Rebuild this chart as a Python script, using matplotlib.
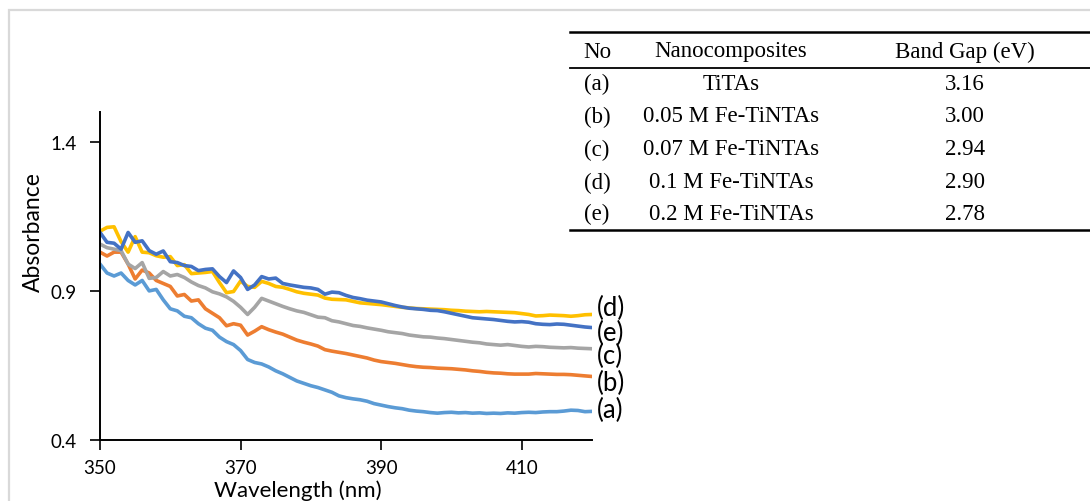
import matplotlib
matplotlib.use("Agg")
import matplotlib.pyplot as plt
from matplotlib.patches import Rectangle
from matplotlib.lines import Line2D

# Wavelength grid (nm) and absorbance spectra
wavelength = list(range(350, 421))

abs_a = [0.99, 0.96, 0.95, 0.96, 0.935, 0.92, 0.935, 0.90, 0.905, 0.87,
         0.84, 0.833, 0.815, 0.81, 0.79, 0.775, 0.768, 0.745, 0.73, 0.72,
         0.70, 0.67, 0.66, 0.655, 0.645, 0.632, 0.622, 0.61, 0.598, 0.59,
         0.582, 0.576, 0.568, 0.56, 0.548, 0.542, 0.538, 0.535, 0.53, 0.522,
         0.517, 0.512, 0.508, 0.505, 0.50, 0.497, 0.495, 0.492, 0.49, 0.492,
         0.493, 0.491, 0.492, 0.49, 0.491, 0.489, 0.49, 0.489, 0.491, 0.49,
         0.492, 0.493, 0.492, 0.494, 0.495, 0.495, 0.497, 0.50, 0.499, 0.495,
         0.496]

abs_b = [1.03, 1.017, 1.03, 1.03, 0.99, 0.94, 0.97, 0.96, 0.935, 0.925,
         0.915, 0.883, 0.888, 0.866, 0.87, 0.84, 0.825, 0.81, 0.783, 0.79,
         0.785, 0.752, 0.765, 0.78, 0.77, 0.762, 0.755, 0.745, 0.735, 0.728,
         0.722, 0.715, 0.703, 0.698, 0.694, 0.69, 0.685, 0.68, 0.675, 0.668,
         0.663, 0.66, 0.657, 0.653, 0.649, 0.646, 0.644, 0.643, 0.641, 0.64,
         0.639, 0.637, 0.635, 0.632, 0.63, 0.627, 0.625, 0.624, 0.622, 0.621,
         0.621, 0.621, 0.623, 0.622, 0.621, 0.62, 0.62, 0.619, 0.617, 0.615,
         0.613]

abs_c = [1.057, 1.045, 1.04, 1.035, 0.99, 0.975, 0.995, 0.942, 0.945, 0.965,
         0.95, 0.955, 0.945, 0.93, 0.918, 0.91, 0.897, 0.89, 0.88, 0.865,
         0.845, 0.821, 0.845, 0.875, 0.866, 0.857, 0.848, 0.84, 0.833, 0.828,
         0.82, 0.812, 0.81, 0.80, 0.796, 0.79, 0.784, 0.781, 0.776, 0.772,
         0.768, 0.763, 0.76, 0.757, 0.752, 0.749, 0.746, 0.745, 0.742, 0.74,
         0.737, 0.734, 0.731, 0.728, 0.726, 0.722, 0.72, 0.718, 0.72, 0.717,
         0.714, 0.712, 0.714, 0.713, 0.711, 0.71, 0.709, 0.71, 0.708, 0.707,
         0.706]

abs_d = [1.10, 1.113, 1.115, 1.065, 1.03, 1.082, 1.03, 1.028, 1.018, 1.013,
         1.015, 0.985, 0.988, 0.958, 0.96, 0.962, 0.965, 0.928, 0.894, 0.898,
         0.933, 0.915, 0.912, 0.932, 0.925, 0.915, 0.912, 0.905, 0.897, 0.892,
         0.889, 0.886, 0.876, 0.872, 0.871, 0.87, 0.865, 0.86, 0.858, 0.856,
         0.854, 0.851, 0.848, 0.845, 0.843, 0.841, 0.84, 0.839, 0.838, 0.837,
         0.835, 0.834, 0.832, 0.831, 0.83, 0.831, 0.83, 0.829, 0.828, 0.827,
         0.824, 0.821, 0.816, 0.817, 0.819, 0.818, 0.817, 0.815, 0.817, 0.82,
         0.821]

abs_e = [1.096, 1.063, 1.06, 1.04, 1.096, 1.063, 1.068, 1.035, 1.023, 1.034,
         0.998, 0.995, 0.985, 0.982, 0.968, 0.972, 0.974, 0.948, 0.928, 0.967,
         0.945, 0.905, 0.92, 0.948, 0.94, 0.943, 0.925, 0.92, 0.916, 0.912,
         0.91, 0.905, 0.889, 0.896, 0.894, 0.885, 0.878, 0.874, 0.869, 0.866,
         0.863, 0.857, 0.851, 0.846, 0.842, 0.84, 0.838, 0.835, 0.834, 0.83,
         0.825, 0.82, 0.815, 0.81, 0.808, 0.806, 0.804, 0.801, 0.798, 0.796,
         0.797, 0.795, 0.79, 0.788, 0.787, 0.789, 0.788, 0.785, 0.782, 0.779,
         0.777]

series_ids = ["(a)", "(b)", "(c)", "(d)", "(e)"]
series_colors = ["#5B9BD5", "#ED7D31", "#A5A5A5", "#FFC000", "#4472C4"]
series_values = [abs_a, abs_b, abs_c, abs_d, abs_e]
label_y = {"(d)": 0.845, "(e)": 0.762, "(c)": 0.685, "(b)": 0.594, "(a)": 0.503}

x_ticks = [350, 370, 390, 410]
y_ticks = [0.4, 0.9, 1.4]

# Band-gap table
table_header = ["No", "Nanocomposites", "Band Gap (eV)"]
table_no = ["(a)", "(b)", "(c)", "(d)", "(e)"]
table_names = ["TiTAs", "0.05 M Fe-TiNTAs", "0.07 M Fe-TiNTAs",
               "0.1 M Fe-TiNTAs", "0.2 M Fe-TiNTAs"]
table_gaps = ["3.16", "3.00", "2.94", "2.90", "2.78"]

W, H = 1090, 502
fig = plt.figure(figsize=(W / 100, H / 100), dpi=100)
fig.patch.set_facecolor("white")

sans = ["Lato", "DejaVu Sans"]
serif = ["Liberation Serif", "DejaVu Serif"]

def fx(px):
    return px / W

def fy(py):
    return 1 - py / H

# light frame around the canvas
fig.add_artist(Rectangle((fx(9), fy(H + 20)), fx(W + 20), fy(11) - fy(H + 20),
                         transform=fig.transFigure, fill=False,
                         edgecolor="#D9D9D9", linewidth=1.6))

ax = fig.add_axes([fx(100), fy(441), fx(592) - fx(100), fy(113) - fy(441)])
for vals, col in zip(series_values, series_colors):
    ax.plot(wavelength, vals, color=col, linewidth=2.6, solid_joinstyle="round")

ax.set_xlim(350, 420)
ax.set_ylim(0.4, 1.5)
ax.set_xticks(x_ticks)
ax.set_yticks(y_ticks)
ax.set_xticklabels([str(t) for t in x_ticks], fontfamily=sans, fontsize=13.5)
ax.set_yticklabels([f"{t:.1f}" for t in y_ticks], fontfamily=sans, fontsize=13.5)
for side in ("top", "right"):
    ax.spines[side].set_visible(False)
for side in ("left", "bottom"):
    ax.spines[side].set_linewidth(1.4)
    ax.spines[side].set_color("black")
ax.tick_params(direction="out", length=7, width=1.2, color="black")
ax.tick_params(axis="x", pad=7)
ax.tick_params(axis="y", pad=10)
ax.patch.set_alpha(0)

for sid in series_ids:
    ax.text(420.7, label_y[sid], sid, fontsize=18.5, fontfamily=sans,
            va="center", ha="left", clip_on=False)

fig.text(fx(298), fy(491), "Wavelength (nm)", fontsize=16, fontfamily=sans,
         ha="center", va="center")
fig.text(fx(33), fy(232), "Absorbance", fontsize=16.5, fontfamily=sans,
         ha="center", va="center", rotation=90)

# table rules
for py, lw in [(33, 1.8), (69, 1.3), (231, 1.8)]:
    fig.add_artist(Line2D([fx(570), fx(W)], [fy(py), fy(py)],
                          transform=fig.transFigure, color="black", linewidth=lw))

col_x = [597, 731, 965]
header_y = 52
row_y = [84, 117, 150, 183, 214]
tsize = 16.5
for cx, txt in zip(col_x, table_header):
    fig.text(fx(cx), fy(header_y), txt, fontsize=tsize, fontfamily=serif,
             ha="center", va="center")
for ry, no, nm, gap in zip(row_y, table_no, table_names, table_gaps):
    fig.text(fx(col_x[0]), fy(ry), no, fontsize=tsize, fontfamily=serif,
             ha="center", va="center")
    fig.text(fx(col_x[1]), fy(ry), nm, fontsize=tsize, fontfamily=serif,
             ha="center", va="center")
    fig.text(fx(col_x[2]), fy(ry), gap, fontsize=tsize, fontfamily=serif,
             ha="center", va="center")

fig.savefig("out.png", dpi=100)
